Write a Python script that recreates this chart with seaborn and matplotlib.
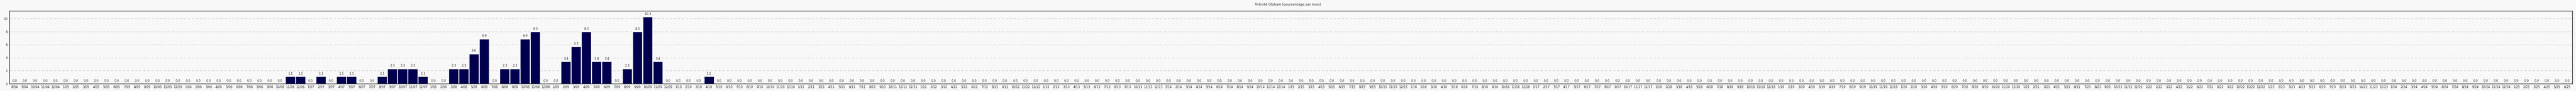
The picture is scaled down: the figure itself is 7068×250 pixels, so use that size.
import seaborn as sns
import matplotlib.pyplot as plt

# monthly activity (%), one row per year, 8/04 .. 6/25
start_year, start_month = 2004, 8
activity = [
    0, 0, 0, 0, 0,                                              # 2004 (8-12)
    0, 0, 0, 0, 0, 0, 0, 0, 0, 0, 0, 0,                         # 2005
    0, 0, 0, 0, 0, 0, 0, 0, 0, 0, 1.1, 1.1,                     # 2006
    0, 1.1, 0, 1.1, 1.1, 0, 0, 1.1, 2.3, 2.3, 2.3, 1.1,         # 2007
    0, 0, 2.3, 2.3, 4.6, 6.9, 0, 2.3, 2.3, 6.9, 8.0, 0,         # 2008
    0, 3.4, 5.7, 8.0, 3.4, 3.4, 0, 2.3, 8.0, 10.3, 3.4, 0,      # 2009
    0, 0, 0, 1.1, 0, 0, 0, 0, 0, 0, 0, 0,                       # 2010
    0, 0, 0, 0, 0, 0, 0, 0, 0, 0, 0, 0,                         # 2011
    0, 0, 0, 0, 0, 0, 0, 0, 0, 0, 0, 0,                         # 2012
    0, 0, 0, 0, 0, 0, 0, 0, 0, 0, 0, 0,                         # 2013
    0, 0, 0, 0, 0, 0, 0, 0, 0, 0, 0, 0,                         # 2014
    0, 0, 0, 0, 0, 0, 0, 0, 0, 0, 0, 0,                         # 2015
    0, 0, 0, 0, 0, 0, 0, 0, 0, 0, 0, 0,                         # 2016
    0, 0, 0, 0, 0, 0, 0, 0, 0, 0, 0, 0,                         # 2017
    0, 0, 0, 0, 0, 0, 0, 0, 0, 0, 0, 0,                         # 2018
    0, 0, 0, 0, 0, 0, 0, 0, 0, 0, 0, 0,                         # 2019
    0, 0, 0, 0, 0, 0, 0, 0, 0, 0, 0, 0,                         # 2020
    0, 0, 0, 0, 0, 0, 0, 0, 0, 0, 0, 0,                         # 2021
    0, 0, 0, 0, 0, 0, 0, 0, 0, 0, 0, 0,                         # 2022
    0, 0, 0, 0, 0, 0, 0, 0, 0, 0, 0, 0,                         # 2023
    0, 0, 0, 0, 0, 0, 0, 0, 0, 0, 0, 0,                         # 2024
    0, 0, 0, 0, 0, 0,                                           # 2025 (1-6)
]

months = []
y, m = start_year, start_month
for _ in activity:
    months.append(f"{m}/{y % 100:02d}")
    m += 1
    if m > 12:
        m, y = 1, y + 1

y_ticks = [0, 2, 4, 6, 8, 10]
bg = "#f8f8f8"
bar_color = "#00004f"

sns.set_style("white")
plt.rcParams["font.family"] = ["DejaVu Sans"]

fig = plt.figure(figsize=(70.68, 2.5), dpi=100, facecolor=bg)
ax = fig.add_axes([26 / 7068, 20 / 250, 7032 / 7068, 200 / 250])
ax.set_facecolor(bg)

sns.barplot(x=months, y=activity, order=months, color=bar_color,
            saturation=1, width=0.96, ax=ax, zorder=2)

for v_lbl in ax.containers:
    ax.bar_label(v_lbl, fmt="%.1f", padding=2.5, fontsize=6)

ax.set_xlim(-0.5, len(months) - 0.5)
ax.set_ylim(0, 11.2)
ax.set_yticks(y_ticks)
ax.set_yticklabels([str(t) for t in y_ticks], fontsize=6)
for t in y_ticks[1:]:
    ax.axhline(t, color="#c4c4c4", lw=0.8, ls=(0, (6, 4)), zorder=1)

ax.set_xticks(range(len(months)))
ax.set_xticklabels(months, fontsize=6)
ax.set_xticks([i + 0.5 for i in range(len(months) - 1)], minor=True)
ax.tick_params(axis="x", which="major", length=0, pad=3)
ax.tick_params(axis="x", which="minor", length=2, width=0.8, color="black", direction="out")
ax.tick_params(axis="y", length=0, pad=4)

for s in ax.spines.values():
    s.set_color("black")
    s.set_linewidth(1)

ax.set_xlabel("")
ax.set_ylabel("")
fig.text(0.5, 1 - 12 / 250, "Activité Globale (pourcentage par mois)",
         ha="center", va="center", fontsize=6.5)

plt.savefig("out.png", dpi=100, facecolor=bg)
